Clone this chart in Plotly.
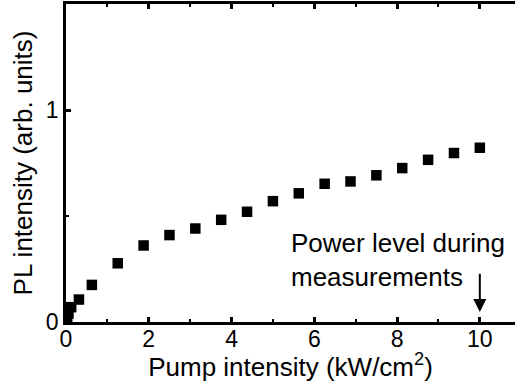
import plotly.graph_objects as go

# Data
pump = [0.03, 0.06, 0.125, 0.3125, 0.625, 1.25, 1.875, 2.5, 3.125, 3.75, 4.375,
        5.0, 5.625, 6.25, 6.875, 7.5, 8.125, 8.75, 9.375, 10.0]
pl = [0.008, 0.04, 0.07, 0.106, 0.175, 0.277, 0.361, 0.410, 0.441, 0.482, 0.520,
      0.570, 0.607, 0.652, 0.663, 0.692, 0.726, 0.765, 0.797, 0.822]
x_ticks = [0, 2, 4, 6, 8, 10]
y_ticks = [0, 1]
x_range = [0, 10.85]
y_range = [0, 1.5]
arrow_x = 10.0
arrow_tip_y = 0.047
arrow_tail_y = 0.235

FONT = "Liberation Sans, Arial, sans-serif"

fig = go.Figure()
fig.add_trace(go.Scatter(
    x=pump, y=pl, mode="markers",
    marker=dict(symbol="square", size=10.5, color="black"),
    showlegend=False,
))

fig.update_layout(
    width=515, height=382,
    margin=dict(l=66, r=0, t=4, b=60),
    paper_bgcolor="white", plot_bgcolor="white",
    font=dict(family=FONT, size=23, color="black"),
    xaxis=dict(
        range=x_range, tickvals=x_ticks, ticktext=[str(v) for v in x_ticks],
        showgrid=False, zeroline=False,
        showline=True, linecolor="black", linewidth=2.5, mirror="ticks",
        ticks="inside", ticklen=5, tickwidth=2.5, tickcolor="black",
        minor=dict(dtick=1, tick0=0, ticks="inside", ticklen=3, tickwidth=2, tickcolor="black"),
        tickfont=dict(size=23), ticklabelstandoff=-5,
        title=dict(text="Pump intensity (kW/cm<sup>2</sup>)", font=dict(size=26), standoff=3),
    ),
    yaxis=dict(
        range=y_range, tickvals=y_ticks, ticktext=[str(v) for v in y_ticks],
        showgrid=False, zeroline=False,
        showline=True, linecolor="black", linewidth=2.5, mirror=False,
        ticks="inside", ticklen=5, tickwidth=2.5, tickcolor="black",
        minor=dict(dtick=0.5, tick0=0, ticks="inside", ticklen=3, tickwidth=2, tickcolor="black"),
        tickfont=dict(size=23),
        title=dict(text="PL intensity (arb. units)", font=dict(size=26), standoff=6),
    ),
    yaxis2=dict(
        range=y_range, overlaying="y", side="right", anchor="x",
        tickvals=y_ticks, showticklabels=False, showgrid=False, zeroline=False,
        showline=False, ticks="inside", ticklen=6, tickwidth=2.5, tickcolor="black",
        minor=dict(dtick=0.5, tick0=0, ticks="inside", ticklen=4, tickwidth=2, tickcolor="black"),
    ),
)

fig.add_annotation(
    x=5.39, y=0.294, xref="x", yref="y",
    text="Power level during<br>measurements",
    showarrow=False, xanchor="left", yanchor="middle", align="left",
    font=dict(family=FONT, size=26, color="black"),
)
fig.add_annotation(
    x=arrow_x, y=arrow_tip_y, ax=arrow_x, ay=arrow_tail_y,
    xref="x", yref="y", axref="x", ayref="y",
    text="", showarrow=True, arrowhead=2, arrowsize=1.3, arrowwidth=2,
    arrowcolor="black",
)

fig.write_html("out.html")
